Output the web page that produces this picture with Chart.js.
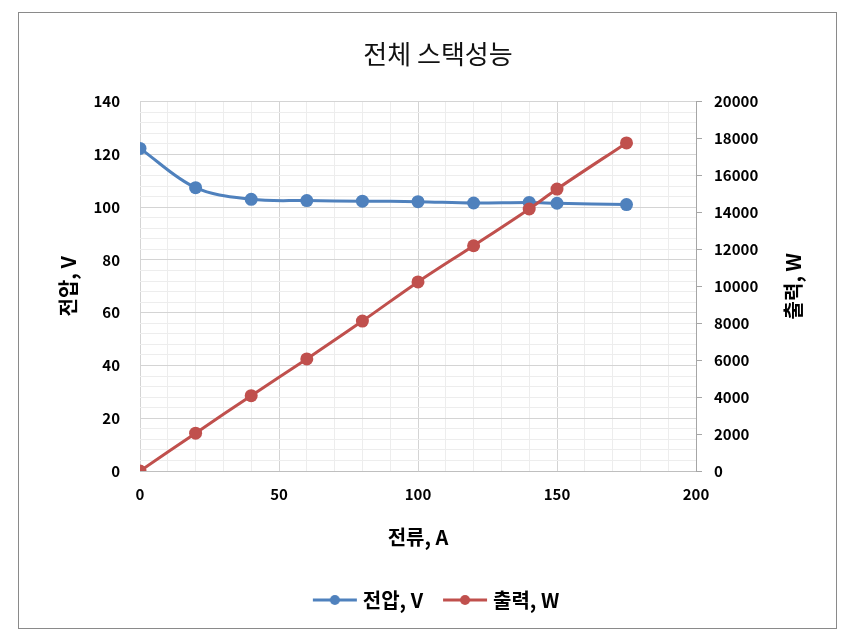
<!DOCTYPE html>
<html>
<head>
<meta charset="utf-8">
<script src="https://cdn.jsdelivr.net/npm/chart.js@4.4.1/dist/chart.umd.min.js"></script>
<style>
  html, body { margin: 0; padding: 0; background: #fff; }
  #wrap { width: 853px; height: 638px; position: relative; }
</style>
</head>
<body>
<div id="wrap"><canvas id="chart"></canvas></div>
<script>
// values
const current = [0, 20, 40, 60, 80, 100, 120, 140, 150, 175];
const voltage = [122.3, 107.4, 103.0, 102.5, 102.3, 102.1, 101.6, 101.8, 101.5, 101.0];
const power = [0, 2050, 4080, 6070, 8120, 10240, 12200, 14190, 15270, 17770];

const chartTitle = "전체 스택성능";
const xTitle = "전류, A";
const yLeftTitle = "전압, V";
const yRightTitle = "출력, W";
const seriesNames = ["전압, V", "출력, W"];

const FONT = "'Noto Sans CJK KR', 'Malgun Gothic', sans-serif";
const BLUE = "#4f81bd";
const RED = "#c0504d";
const MAJOR = "#d4d4d4";
const MINOR = "#ededed";

function legendIcon(color) {
  const c = document.createElement("canvas");
  c.width = 46;
  c.height = 14;
  const g = c.getContext("2d");
  g.strokeStyle = color;
  g.lineWidth = 3;
  g.beginPath();
  g.moveTo(1, 7);
  g.lineTo(45, 7);
  g.stroke();
  g.fillStyle = color;
  g.beginPath();
  g.arc(23, 7, 5, 0, Math.PI * 2);
  g.fill();
  return c;
}
const icons = [legendIcon(BLUE), legendIcon(RED)];

const framePlugin = {
  id: "frame",
  beforeDraw(chart) {
    const ctx = chart.ctx;
    ctx.save();
    ctx.strokeStyle = "#8a8a8a";
    ctx.lineWidth = 1;
    ctx.strokeRect(18.5, 12.5, 818, 616);
    ctx.restore();
  },
  afterDraw(chart) {
    // secondary axis title, rotated like the left one
    const ctx = chart.ctx;
    const area = chart.chartArea;
    ctx.save();
    ctx.translate(793, (area.top + area.bottom) / 2);
    ctx.rotate(-Math.PI / 2);
    ctx.font = "bold 20px " + FONT;
    ctx.fillStyle = "#000";
    ctx.textAlign = "center";
    ctx.textBaseline = "middle";
    ctx.fillText(yRightTitle, 0, 0);
    ctx.restore();
  }
};

new Chart(document.getElementById("chart"), {
  type: "line",
  data: {
    datasets: [
      {
        label: seriesNames[0],
        data: current.map((x, i) => ({ x: x, y: voltage[i] })),
        yAxisID: "y",
        borderColor: BLUE,
        backgroundColor: BLUE,
        borderWidth: 3,
        pointRadius: 6.5,
        pointBorderWidth: 0,
        tension: 0.35,
        order: 2
      },
      {
        label: seriesNames[1],
        data: current.map((x, i) => ({ x: x, y: power[i] })),
        yAxisID: "y2",
        borderColor: RED,
        backgroundColor: RED,
        borderWidth: 3,
        pointRadius: 6.5,
        pointBorderWidth: 0,
        tension: 0.35,
        order: 1
      }
    ]
  },
  options: {
    responsive: true,
    maintainAspectRatio: false,
    animation: false,
    layout: { padding: { left: 40, right: 17, top: 0, bottom: 18 } },
    plugins: {
      tooltip: { enabled: false },
      title: {
        display: true,
        text: chartTitle,
        color: "#111",
        font: { family: FONT, size: 26, weight: "normal" },
        padding: { top: 39, bottom: 31.5 }
      },
      legend: {
        position: "bottom",
        labels: {
          usePointStyle: true,
          pointStyleWidth: 36,
          padding: 24,
          color: "#000",
          font: { family: FONT, size: 20, weight: "bold" },
          generateLabels(chart) {
            return chart.data.datasets.map((ds, i) => ({
              text: ds.label,
              pointStyle: icons[i],
              fillStyle: ds.borderColor,
              strokeStyle: ds.borderColor,
              lineWidth: 0,
              hidden: false,
              datasetIndex: i
            }));
          }
        }
      }
    },
    scales: {
      x: {
        type: "linear",
        min: 0,
        max: 200,
        ticks: {
          stepSize: 10,
          autoSkip: false,
          maxRotation: 0,
          minRotation: 0,
          padding: 14,
          color: "#000",
          font: { family: FONT, size: 15, weight: "bold" },
          callback: (v) => (v % 50 === 0 ? String(v) : "")
        },
        grid: {
          drawTicks: false,
          color: (c) => (c.tick && c.tick.value % 50 === 0 ? MAJOR : MINOR)
        },
        border: { color: "#bfbfbf" },
        title: {
          display: true,
          text: xTitle,
          color: "#000",
          font: { family: FONT, size: 20, weight: "bold" },
          padding: { top: 0, bottom: 17 }
        },
        afterFit(scale) { scale.height = 95; }
      },
      y: {
        position: "left",
        min: 0,
        max: 140,
        ticks: {
          stepSize: 4,
          autoSkip: false,
          padding: 20,
          color: "#000",
          font: { family: FONT, size: 15, weight: "bold" },
          callback: (v) => (v % 20 === 0 ? String(v) : "")
        },
        grid: {
          drawTicks: false,
          color: (c) => (c.tick && c.tick.value % 20 === 0 ? MAJOR : MINOR)
        },
        border: { display: false },
        title: {
          display: true,
          text: yLeftTitle,
          color: "#000",
          font: { family: FONT, size: 20, weight: "bold" },
          padding: { top: 16, bottom: 0 }
        },
        afterFit(scale) { scale.width = 100; }
      },
      y2: {
        position: "right",
        min: 0,
        max: 20000,
        ticks: {
          stepSize: 2000,
          padding: 12,
          color: "#000",
          font: { family: FONT, size: 15, weight: "bold" },
          callback: (v) => String(v)
        },
        grid: {
          drawOnChartArea: false,
          tickLength: 6,
          color: "#a6a6a6"
        },
        border: { color: "#a6a6a6" },
        afterFit(scale) { scale.width = 140; }
      }
    }
  },
  plugins: [framePlugin]
});
</script>
</body>
</html>
